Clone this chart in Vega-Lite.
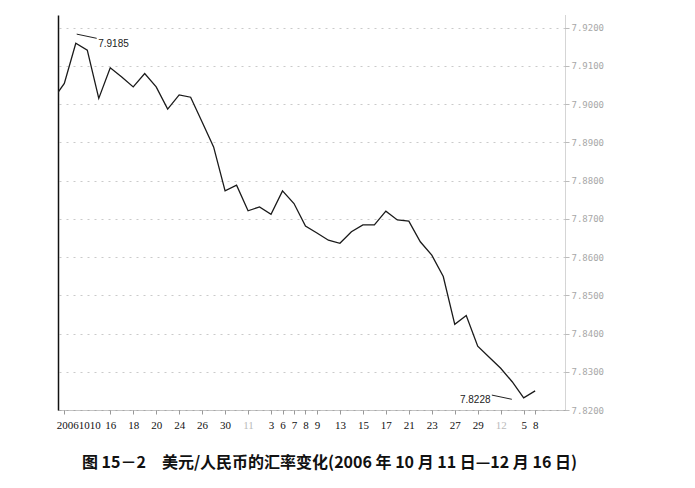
{
  "$schema": "https://vega.github.io/schema/vega-lite/v6.json",
  "width": 507,
  "height": 395,
  "autosize": {"type": "none"},
  "padding": {"left": 58, "top": 15, "right": 130, "bottom": 78},
  "background": "white",
  "title": {
    "text": "图 15－2　美元/人民币的汇率变化(2006 年 10 月 11 日—12 月 16 日)",
    "orient": "bottom",
    "anchor": "middle",
    "font": "Noto Sans CJK SC",
    "fontSize": 16,
    "fontWeight": "bold",
    "color": "#111",
    "offset": 25,
    "dx": 18
  },
  "datasets": {
    "rate": [
      {"i": -1, "date": "2006-10-09", "v": 7.9012},
      {"i": 0, "date": "2006-10-10", "v": 7.9054},
      {"i": 1, "date": "2006-10-11", "v": 7.9159},
      {"i": 2, "date": "2006-10-12", "v": 7.9141},
      {"i": 3, "date": "2006-10-13", "v": 7.9015},
      {"i": 4, "date": "2006-10-16", "v": 7.9095},
      {"i": 5, "date": "2006-10-17", "v": 7.9071},
      {"i": 6, "date": "2006-10-18", "v": 7.9045},
      {"i": 7, "date": "2006-10-19", "v": 7.9080},
      {"i": 8, "date": "2006-10-20", "v": 7.9045},
      {"i": 9, "date": "2006-10-23", "v": 7.8987},
      {"i": 10, "date": "2006-10-24", "v": 7.9024},
      {"i": 11, "date": "2006-10-25", "v": 7.9018},
      {"i": 12, "date": "2006-10-26", "v": 7.8953},
      {"i": 13, "date": "2006-10-27", "v": 7.8888},
      {"i": 14, "date": "2006-10-30", "v": 7.8773},
      {"i": 15, "date": "2006-10-31", "v": 7.8788},
      {"i": 16, "date": "2006-11-01", "v": 7.8721},
      {"i": 17, "date": "2006-11-02", "v": 7.8731},
      {"i": 18, "date": "2006-11-03", "v": 7.8712},
      {"i": 19, "date": "2006-11-06", "v": 7.8773},
      {"i": 20, "date": "2006-11-07", "v": 7.8740},
      {"i": 21, "date": "2006-11-08", "v": 7.8681},
      {"i": 22, "date": "2006-11-09", "v": 7.8663},
      {"i": 23, "date": "2006-11-10", "v": 7.8644},
      {"i": 24, "date": "2006-11-13", "v": 7.8636},
      {"i": 25, "date": "2006-11-14", "v": 7.8666},
      {"i": 26, "date": "2006-11-15", "v": 7.8684},
      {"i": 27, "date": "2006-11-16", "v": 7.8684},
      {"i": 28, "date": "2006-11-17", "v": 7.8720},
      {"i": 29, "date": "2006-11-20", "v": 7.8697},
      {"i": 30, "date": "2006-11-21", "v": 7.8694},
      {"i": 31, "date": "2006-11-22", "v": 7.8640},
      {"i": 32, "date": "2006-11-23", "v": 7.8605},
      {"i": 33, "date": "2006-11-24", "v": 7.8549},
      {"i": 34, "date": "2006-11-27", "v": 7.8424},
      {"i": 35, "date": "2006-11-28", "v": 7.8447},
      {"i": 36, "date": "2006-11-29", "v": 7.8367},
      {"i": 37, "date": "2006-11-30", "v": 7.8338},
      {"i": 38, "date": "2006-12-01", "v": 7.8309},
      {"i": 39, "date": "2006-12-04", "v": 7.8274},
      {"i": 40, "date": "2006-12-05", "v": 7.8232},
      {"i": 41, "date": "2006-12-06", "v": 7.8250}
    ],
    "notes": [
      {"label": "7.9185", "i": 2.95, "v": 7.9157, "i1": 1.08, "v1": 7.9183, "i2": 2.82, "v2": 7.9172},
      {"label": "7.8228", "i": 34.45, "v": 7.8226, "i1": 37.23, "v1": 7.8239, "i2": 38.97, "v2": 7.8228}
    ]
  },
  "layer": [
    {
      "data": {"name": "rate"},
      "mark": {"type": "line", "color": "#1a1a1a", "strokeWidth": 1.3, "clip": true},
      "encoding": {
        "x": {
          "field": "i",
          "type": "quantitative",
          "scale": {"domain": [-0.55, 43.6], "nice": false, "zero": false},
          "axis": {
            "title": null,
            "grid": false,
            "values": [0, 4, 6, 8, 10, 12, 14, 16, 18, 19, 20, 21, 22, 24, 26, 28, 30, 32, 34, 36, 38, 40, 41],
            "labelExpr": "['20061010','','','','16','','18','','20','','24','','26','','30','','11','','3','6','7','8','9','','13','','15','','17','','21','','23','','27','','29','','12','','5','8'][datum.value]",
            "labelOverlap": false,
            "labelBound": false,
            "labelFlush": false,
            "labelFont": "Liberation Serif",
            "labelFontSize": 11,
            "labelColor": {"condition": {"test": "datum.value == 16 || datum.value == 38", "value": "#bbbbbb"}, "value": "#111111"},
            "labelAlign": {"condition": {"test": "datum.value == 0", "value": "left"}, "value": "center"},
            "labelOffset": {"condition": {"test": "datum.value == 0", "value": -8}, "value": 0},
            "labelPadding": 5,
            "tickSize": 4,
            "tickColor": "#999999",
            "domainColor": "#888888",
            "domainDash": [1, 1]
          }
        },
        "y": {
          "field": "v",
          "type": "quantitative",
          "scale": {"domain": [7.82, 7.9233], "nice": false, "zero": false},
          "axis": {
            "orient": "right",
            "title": null,
            "values": [7.82, 7.83, 7.84, 7.85, 7.86, 7.87, 7.88, 7.89, 7.9, 7.91, 7.92],
            "format": ".4f",
            "labelFont": "DejaVu Sans Mono",
            "labelFontSize": 9,
            "labelColor": "#a8a8a8",
            "labelPadding": 2,
            "tickSize": 4,
            "tickColor": "#bbbbbb",
            "domainColor": "#aaaaaa",
            "domainDash": [1, 1],
            "grid": true,
            "gridColor": "#bdbdbd",
            "gridDash": [2, 5],
            "gridWidth": 0.8
          }
        }
      }
    },
    {
      "data": {"name": "notes"},
      "mark": {"type": "rule", "color": "#222222", "strokeWidth": 1},
      "encoding": {
        "x": {"field": "i1", "type": "quantitative", "axis": null},
        "y": {
          "field": "v1",
          "type": "quantitative",
          "axis": {"orient": "left", "title": null, "labels": false, "ticks": false, "grid": false, "domainColor": "#111111", "domainWidth": 1.5}
        },
        "x2": {"field": "i2"},
        "y2": {"field": "v2"}
      }
    },
    {
      "data": {"name": "notes"},
      "mark": {"type": "text", "align": "left", "baseline": "middle", "font": "Liberation Sans", "fontSize": 10, "color": "#222222"},
      "encoding": {
        "x": {"field": "i", "type": "quantitative", "axis": null},
        "y": {"field": "v", "type": "quantitative", "axis": null},
        "text": {"field": "label"}
      }
    }
  ],
  "resolve": {"axis": {"x": "independent", "y": "independent"}},
  "config": {"view": {"stroke": null}, "axisX": {"labelOverlap": false}}
}
